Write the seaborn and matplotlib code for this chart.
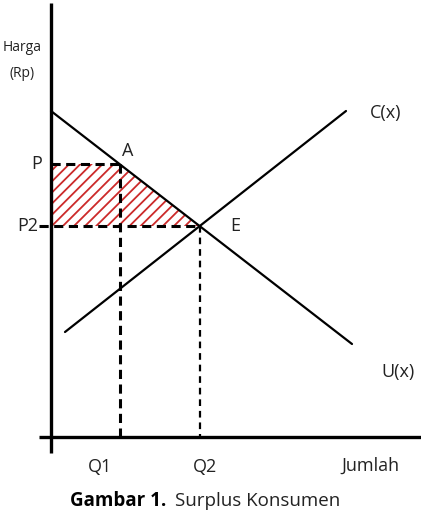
import matplotlib
matplotlib.use("Agg")
import matplotlib.pyplot as plt
import seaborn as sns
import pandas as pd
from matplotlib.patches import Polygon

sns.set_theme(style="white")
plt.rcParams['font.family'] = ['Open Sans', 'DejaVu Sans']
plt.rcParams['hatch.linewidth'] = 1.3

# Data (quantity, price) in diagram units
demand_q = [0, 301]
demand_p = [326, 93]
supply_q = [14, 295]
supply_p = [105, 326]
Q1, Q2 = 69, 149
P, P2 = 273, 211
tick_q_labels = ["Q1", "Q2"]
tick_p_labels = ["P", "P2"]

W, H = 421, 511
fig = plt.figure(figsize=(W / 100, H / 100), dpi=100)
ax = fig.add_axes([0, 0, 1, 1])
ax.set_xlim(-51, W - 51)
ax.set_ylim(-74, H - 74)
ax.axis("off")

df_d = pd.DataFrame({"q": demand_q, "p": demand_p})
df_s = pd.DataFrame({"q": supply_q, "p": supply_p})

# consumer surplus hatched area
ax.add_patch(Polygon([(0, P), (Q1, P), (Q2, P2), (0, P2)], closed=True,
                     facecolor="none", edgecolor="#cc2a2a", hatch="///",
                     linewidth=0))

sns.lineplot(data=df_d, x="q", y="p", ax=ax, color="black", linewidth=1.6)
sns.lineplot(data=df_s, x="q", y="p", ax=ax, color="black", linewidth=1.6)

# axes
ax.plot([0, 0], [-16, 434], color="black", linewidth=2.4, solid_capstyle="butt")
ax.plot([-12, W - 51], [0, 0], color="black", linewidth=2.4, solid_capstyle="butt")

# dashed guides
ax.plot([0, Q1], [P, P], color="black", linewidth=2.2, linestyle=(0, (3, 1.8)))
ax.plot([Q1, Q1], [P, 0], color="black", linewidth=2.2, linestyle=(0, (3, 1.8)))
ax.plot([-12, Q2], [P2, P2], color="black", linewidth=2.2, linestyle=(0, (3, 1.8)))
ax.plot([Q2, Q2], [P2, 0], color="black", linewidth=1.6, linestyle=(0, (3, 2.2)))

fs = 13
tc = "#222222"
ax.text(-9, P, tick_p_labels[0], ha="right", va="center", fontsize=fs, color=tc)
ax.text(-13, P2, tick_p_labels[1], ha="right", va="center", fontsize=fs, color=tc)
ax.text(Q1 - 20, -30, tick_q_labels[0], ha="center", va="center", fontsize=fs, color=tc)
ax.text(Q2 + 5, -30, tick_q_labels[1], ha="center", va="center", fontsize=fs, color=tc)
ax.text(319, -29, "Jumlah", ha="center", va="center", fontsize=fs, color=tc)
ax.text(Q1 + 8, P + 13, "A", ha="center", va="center", fontsize=fs, color=tc)
ax.text(Q2 + 35, P2, "E", ha="center", va="center", fontsize=fs, color=tc)
ax.text(335, 324, "C(x)", ha="center", va="center", fontsize=fs, color=tc)
ax.text(347, 65, "U(x)", ha="center", va="center", fontsize=fs, color=tc)
ax.text(-29, 390, "Harga", ha="center", va="center", fontsize=10, color=tc)
ax.text(-29, 364, "(Rp)", ha="center", va="center", fontsize=10, color=tc)

t1 = ax.text(19, -64, "Gambar 1.", ha="left", va="center", fontsize=13.5,
             fontweight="bold", color="black")
fig.canvas.draw()
bb = t1.get_window_extent(renderer=fig.canvas.get_renderer())
x_next = ax.transData.inverted().transform((bb.x1 + 9, 0))[0]
ax.text(x_next, -64, "Surplus Konsumen", ha="left", va="center", fontsize=13.5, color=tc)

fig.savefig("out.png", dpi=100)
